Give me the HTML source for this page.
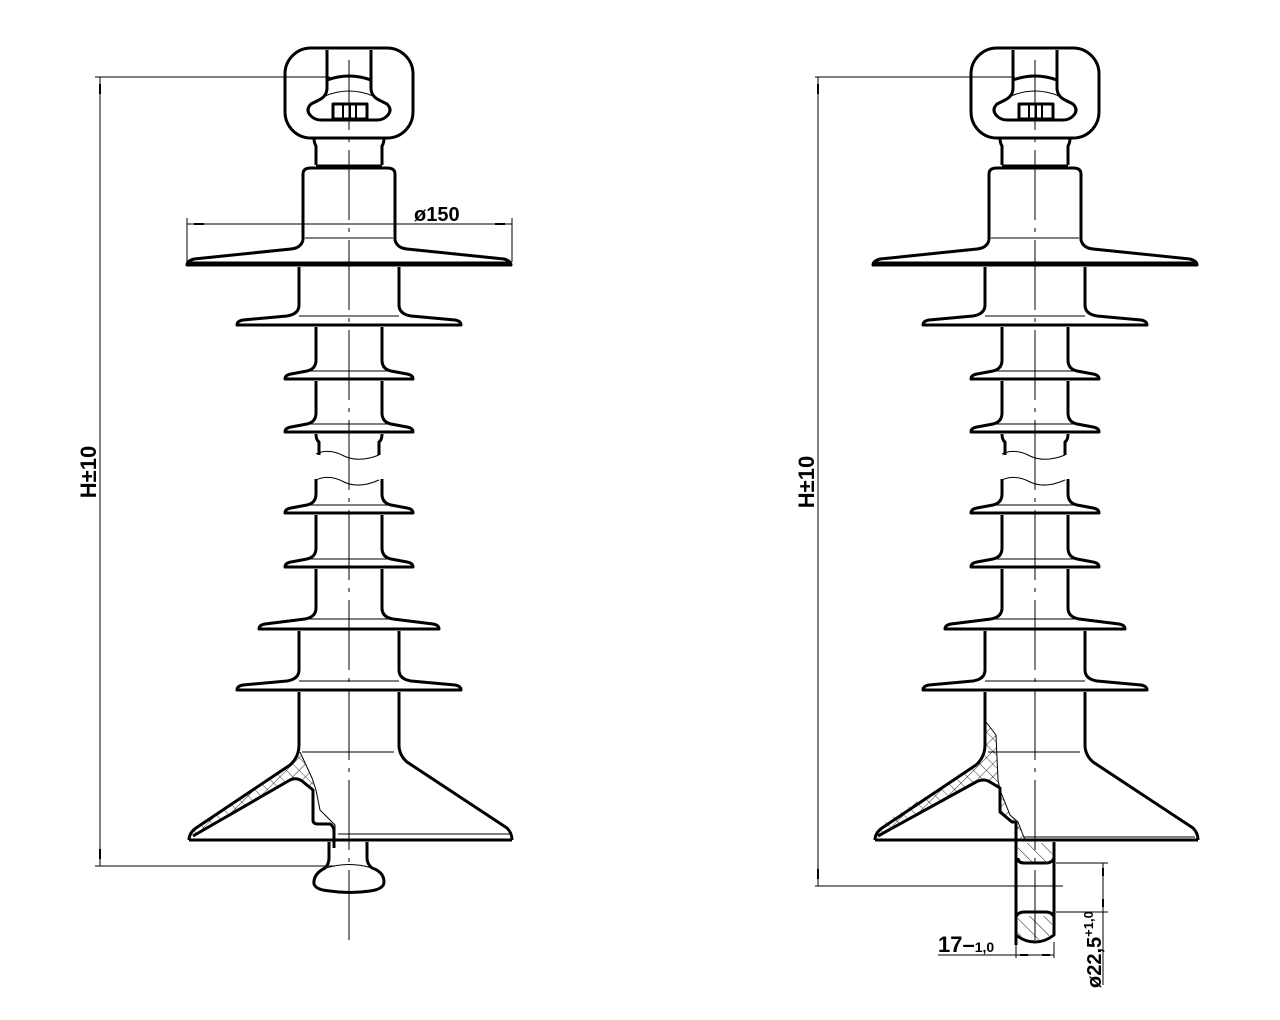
<!DOCTYPE html>
<html><head><meta charset="utf-8"><style>
html,body{margin:0;padding:0;background:#fff}
svg{display:block}
text{font-family:"Liberation Sans",sans-serif;font-weight:bold;fill:#000}
</style></head><body>
<svg width="1280" height="1020" viewBox="0 0 1280 1020" xmlns="http://www.w3.org/2000/svg">
<defs>
<pattern id="xh" width="9" height="9" patternUnits="userSpaceOnUse" patternTransform="rotate(45)">
<path d="M0 0V9M0 0H9" stroke="#000" stroke-width="0.8"/>
</pattern>
<pattern id="sh" width="10" height="10" patternUnits="userSpaceOnUse" patternTransform="rotate(-45)">
<path d="M0 0V10" stroke="#000" stroke-width="0.9"/>
</pattern>
<g id="body" fill="none" stroke="#000" stroke-linejoin="round">
  <!-- clevis -->
  <rect x="-64" y="48" width="128" height="90" rx="26" stroke-width="3"/>
  <path d="M-22 50 V88 Q-22 96 -30 100 L-38 104 Q-44 110 -38 116 Q-34 120 -28 120 H28 Q34 120 38 116 Q44 110 38 104 L30 100 Q22 96 22 88 V50" stroke-width="3"/>
  <path d="M-22 80 Q0 72 22 80" stroke-width="3"/>
  <path d="M-24 96 Q0 86 24 96" stroke-width="1"/>
  <rect x="-16" y="104" width="34" height="15" stroke-width="3"/>
  <path d="M-6 105V118M1 105V118M7 105V118" stroke-width="2"/>
  <!-- neck -->
  <path d="M-35 138 Q-35 143 -33 146 V165 M35 138 Q35 143 33 146 V165" stroke-width="3"/>
  <path d="M-33 166 H33" stroke-width="3"/>
  <!-- cap + top shed -->
  <path d="M-46 240 V174 Q-46 168 -38 168 H38 Q46 168 46 174 V240 Q48 248 58 249 L155 259 Q162 261 162 265 H-162 Q-162 261 -155 259 L-58 249 Q-48 248 -46 240" stroke-width="3"/>
  <path d="M-44 238 H44 M-42 169 H42" stroke-width="1"/>
  <path d="M-162 263 H162" stroke-width="3"/>
  <!-- section A 263-323 half 50, tip 112 -->
  <path d="M-50 267 V305 Q-50 314 -62 316 L-106 320 Q-112 321 -112 325 H112 Q112 321 106 320 L62 316 Q50 314 50 305 V267" stroke-width="3"/>
  <path d="M-50 316 H50" stroke-width="1"/>
  <!-- B 323-377 half 33 tip 64 -->
  <path d="M-33 327 V360 Q-33 369 -42 371 L-58 374 Q-64 375 -64 379 H64 Q64 375 58 374 L42 371 Q33 369 33 360 V327" stroke-width="3"/>
  <path d="M-40 371 H40" stroke-width="1"/>
  <!-- C 377-430 -->
  <path d="M-33 381 V413 Q-33 422 -42 424 L-58 427 Q-64 428 -64 432 H64 Q64 428 58 427 L42 424 Q33 422 33 413 V381" stroke-width="3"/>
  <path d="M-40 424 H40" stroke-width="1"/>
  <!-- D break -->
  <path d="M-33 434 Q-33 440 -30 442 V455 M33 434 Q33 440 30 442 V455" stroke-width="3"/>
  <path d="M-33 454 Q-20 448 -5 456 Q10 463 30 455" stroke-width="1"/>
  <path d="M-33 480 Q-20 474 -5 482 Q10 489 30 480" stroke-width="1"/>
  <!-- E 480-511 -->
  <path d="M-33 479 V494 Q-33 503 -42 505 L-58 508 Q-64 509 -64 513 H64 Q64 509 58 508 L42 505 Q33 503 33 494 V479" stroke-width="3"/>
  <path d="M-40 505 H40" stroke-width="1"/>
  <!-- F 511-565 -->
  <path d="M-33 515 V548 Q-33 557 -42 559 L-58 562 Q-64 563 -64 567 H64 Q64 563 58 562 L42 559 Q33 557 33 548 V515" stroke-width="3"/>
  <path d="M-40 559 H40" stroke-width="1"/>
  <!-- G 565-627 tip 90 -->
  <path d="M-33 569 V608 Q-33 617 -44 619 L-84 624 Q-90 625 -90 629 H90 Q90 625 84 624 L44 619 Q33 617 33 608 V569" stroke-width="3"/>
  <path d="M-40 619 H40" stroke-width="1"/>
  <!-- H 627-688 half 50 tip 112 -->
  <path d="M-50 631 V670 Q-50 679 -62 681 L-106 685 Q-112 686 -112 690 H112 Q112 686 106 685 L62 681 Q50 679 50 670 V631" stroke-width="3"/>
  <path d="M-50 681 H50" stroke-width="1"/>
  <!-- I section walls -->
  <path d="M-50 692 V745 M50 692 V745 Q50 755 58 762 L158 828 Q163 833 163 840" stroke-width="3"/>
  <path d="M-160 840 H163" stroke-width="3"/>
  <path d="M-47 752 H45" stroke-width="1"/>
  <!-- centerline -->
  <path d="M0 60 V945" stroke-width="1" stroke-dasharray="70 8 4 8"/>
</g>
</defs>

<!-- LEFT -->
<use href="#body" transform="translate(349 0)"/>
<g fill="none" stroke="#000" stroke-linejoin="round">
  <path d="M300 752 Q306 765 312 778 L314 790 L313 790 L302 781 Q296 777 290 780 L197 834 L192 836 Q195 826 205 820 L290 765 Q298 757 299 745 Z" fill="url(#xh)" stroke="none"/>
  <path d="M299 745 Q299 757 290 765 L196 828 Q189 833 189 840" stroke-width="3"/>
  <path d="M193 836 L290 780 Q296 777 302 781 L313 790 V820 Q313 824 318 824 H330 Q334 826 334 832 V848" stroke-width="3"/>
  <path d="M300 752 Q306 765 312 778 L316 790 L320 810 L335 825 V834" stroke-width="1"/>
  <path d="M338 834 H510" stroke-width="1"/>
  <path d="M329 842 V858 Q329 864 325 868 Q313 874 314 884 Q316 890 330 891 Q349 894 370 891 Q384 889 384 882 Q384 872 372 868 Q367 864 367 858 V842" stroke-width="3"/>
  <path d="M326 868 Q349 861 372 868" stroke-width="1"/>
  <path d="M336 840 H338" stroke-width="3"/>
  <!-- dims -->
  <path d="M95 77 H330 M95 866 H335 M100 77 V866" stroke-width="1"/>
  <path d="M187 218 V262 M512 218 V262 M187 224 H512" stroke-width="1"/>
  <path d="M100 84 V94 M100 849 V859 M194 224 H204 M495 224 H505" stroke-width="2"/>
</g>
<text x="0" y="0" font-size="22" transform="translate(96 472) rotate(-90)" text-anchor="middle">H±10</text>
<text x="414" y="221" font-size="20">ø150</text>

<!-- RIGHT -->
<use href="#body" transform="translate(1035 0)"/>
<g fill="none" stroke="#000" stroke-linejoin="round">
  <path d="M986 722 L996 735 L998 780 L1000 788 L999 790 L990 782 Q984 778 976 782 L880 834 L876 836 Q878 826 888 820 L975 765 Q984 757 985 745 Z" fill="url(#xh)" stroke="none"/>
  <path d="M1000 790 L1010 815 L1018 822 L1025 840 H1016 V822 L1012 822 L999 812 Z" fill="url(#xh)" stroke="none"/>
  <path d="M985 745 Q985 757 976 765 L882 828 Q875 833 875 840" stroke-width="3"/>
  <path d="M878 836 L976 782 Q984 778 990 782 L1000 788 V812 L1012 822 H1016 V945" stroke-width="3"/>
  <path d="M986 722 L996 735 L998 780 L1000 790 L1010 815 L1018 822 L1025 840" stroke-width="1"/>
  <path d="M1024 837 H1195" stroke-width="1"/>
  <path d="M1054 842 V935 Q1045 942 1035 942 Q1025 942 1016 935" stroke-width="3"/>
  <path d="M1018 843 H1052 V858 Q1052 862 1046 863 H1024 Q1018 862 1018 858 Z" fill="url(#sh)" stroke="none"/>
  <path d="M1018 916 H1052 V934 Q1044 940 1035 940 Q1026 940 1018 934 Z" fill="url(#sh)" stroke="none"/>
  <path d="M1018 858 Q1018 863 1024 863 H1046 Q1052 863 1054 858" stroke-width="3"/>
  <path d="M1016 917 Q1018 912 1024 912 H1046 Q1052 912 1054 917" stroke-width="3"/>
  <!-- dims -->
  <path d="M815 77 H1015 M815 886 H1063 M818 77 V886" stroke-width="1"/>
  <path d="M1056 863 H1108 M1056 912 H1108 M1103 863 V985" stroke-width="1"/>
  <path d="M1103 868 V876 M1103 899 V907" stroke-width="2"/>
  <path d="M1016 942 V958 M1054 942 V958 M938 955 H1054" stroke-width="1"/>
  <path d="M1020 955 H1028 M1042 955 H1050" stroke-width="2"/>
  <path d="M818 84 V94 M818 869 V879" stroke-width="2"/>
</g>
<text x="0" y="0" font-size="22" transform="translate(814 482) rotate(-90)" text-anchor="middle">H±10</text>
<text x="938" y="952" font-size="22">17–<tspan font-size="14">1,0</tspan></text>
<text x="0" y="0" font-size="20" transform="translate(1101 988) rotate(-90)">ø22,5<tspan font-size="13" dy="-8">+1,0</tspan></text>
</svg>
</body></html>
